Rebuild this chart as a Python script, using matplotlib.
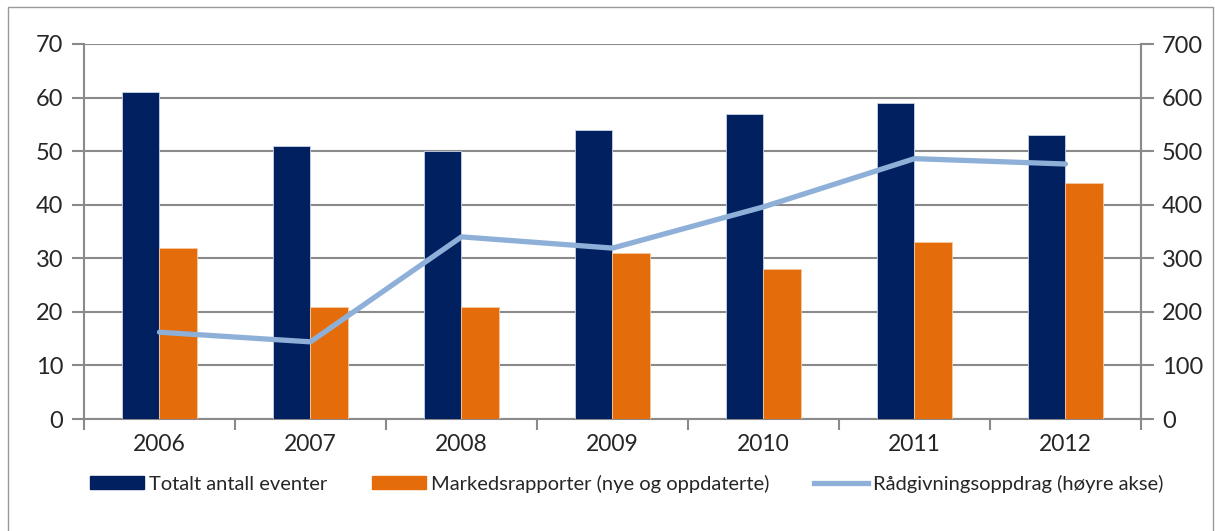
import matplotlib
matplotlib.use("Agg")
import matplotlib.pyplot as plt
import numpy as np
from matplotlib.lines import Line2D

years = ["2006", "2007", "2008", "2009", "2010", "2011", "2012"]
totalt = [61, 51, 50, 54, 57, 59, 53]
markeds = [32, 21, 21, 31, 28, 33, 44]
radgiv = [162, 144, 340, 319, 396, 486, 476]

labels = ["Totalt antall eventer", "Markedsrapporter (nye og oppdaterte)",
          "Rådgivningsoppdrag (høyre akse)"]

plt.rcParams['font.family'] = ['Lato', 'DejaVu Sans']

navy = "#002060"
orange = "#E46C0A"
lblue = "#8EB0D8"
gray = "#8a8a8a"
txt = "#262626"

fig = plt.figure(figsize=(12.15, 5.31), dpi=100)
ax = fig.add_axes([84/1215, 1-419/531, (1141-84)/1215, (419-44)/531])
x = np.arange(len(years))
w = 0.25
ax.bar(x - w/2, totalt, w, color=navy, edgecolor="#c8d4e8", linewidth=0.6, zorder=3)
ax.bar(x + w/2, markeds, w, color=orange, edgecolor="#f5c9a0", linewidth=0.6, zorder=3)
ax.set_xlim(-0.5, len(years) - 0.5)
ax.set_ylim(0, 70)
ax.set_yticks(range(0, 71, 10))
ax.grid(axis='y', color=gray, linewidth=1.5, zorder=0)
ax.set_axisbelow(True)
ax.set_xticks(x)
ax.set_xticklabels(years)
ax.tick_params(axis='x', length=0, pad=11, labelsize=16.5, labelcolor=txt)
ax.set_xticks(np.arange(-0.5, len(years)), minor=True)
ax.tick_params(axis='x', which='minor', length=8, width=1.5, color=gray, direction='out')
ax.tick_params(axis='y', length=9, width=1.5, color=gray, labelsize=17, labelcolor=txt, pad=6)
for s in ['top']:
    ax.spines[s].set_visible(False)
for s in ['left', 'right', 'bottom']:
    ax.spines[s].set_color(gray)
    ax.spines[s].set_linewidth(1.5)

ax2 = ax.twinx()
ax2.plot(x, radgiv, color=lblue, linewidth=3.8, solid_capstyle='round', zorder=5)
ax2.set_ylim(0, 700)
ax2.set_yticks(range(0, 701, 100))
ax2.tick_params(axis='y', length=9, width=1.5, color=gray, labelsize=17, labelcolor=txt, pad=6)
for s in ['top', 'left', 'bottom']:
    ax2.spines[s].set_visible(False)
ax2.spines['right'].set_color(gray)
ax2.spines['right'].set_linewidth(1.5)

# outer frame
fx = [8/1215, 8/1215, 1213/1215, 1213/1215]
fy = [-0.1, 1-7/531, 1-7/531, -0.1]
fig.add_artist(Line2D(fx, fy, color="#999999", linewidth=1.0, transform=fig.transFigure))

handles = [plt.Rectangle((0, 0), 1, 1, color=navy),
           plt.Rectangle((0, 0), 1, 1, color=orange),
           Line2D([0], [0], color=lblue, linewidth=3.8)]
fig.legend(handles, labels, loc='center', bbox_to_anchor=(0.516, 1-484/531), ncol=3,
           frameon=False, fontsize=14.5, handlelength=2.7, handleheight=0.62,
           handletextpad=0.25, columnspacing=2.2, labelcolor=txt)

fig.savefig("out.png", dpi=100)
